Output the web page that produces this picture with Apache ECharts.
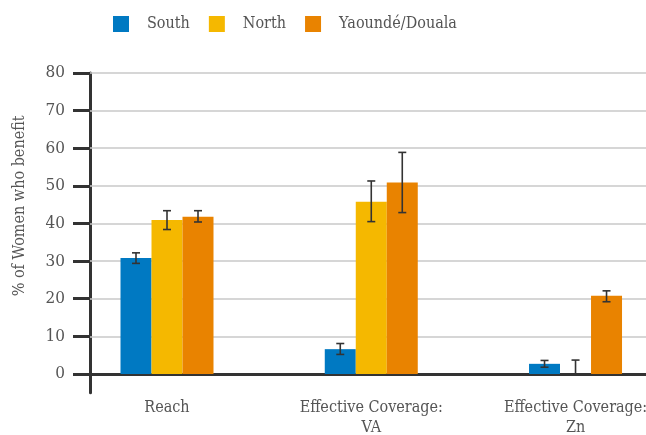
<!DOCTYPE html>
<html>
<head>
<meta charset="utf-8">
<script src="https://cdn.jsdelivr.net/npm/echarts@6/dist/echarts.min.js"></script>
<style>html,body{margin:0;padding:0;background:#fff}#c{width:646px;height:435px}</style>
</head>
<body>
<div id="c"></div>
<script>
const categories = ['Reach', 'Effective Coverage:\nVA', 'Effective Coverage:\nZn'];
const seriesNames = ['South', 'North', 'Yaoundé/Douala'];
const southValues = [30.8, 6.6, 2.7];
const northValues = [40.9, 45.8, 0];
const capitalValues = [41.8, 50.9, 20.8];
const southErrLow = [29.4, 5.2, 1.8];
const southErrHigh = [32.2, 8.1, 3.6];
const northErrLow = [38.4, 40.5, 0];
const northErrHigh = [43.4, 51.3, 3.7];
const capitalErrLow = [40.4, 42.9, 19.2];
const capitalErrHigh = [43.4, 58.9, 22.1];
const yTicks = [0, 10, 20, 30, 40, 50, 60, 70, 80];

const colors = ['#0079c2', '#f5b800', '#e98300'];
const FONT = 'DejaVu Serif Condensed';
const BAR_W = 31;
const values = [southValues, northValues, capitalValues];
const errLow = [southErrLow, northErrLow, capitalErrLow];
const errHigh = [southErrHigh, northErrHigh, capitalErrHigh];

const chart = echarts.init(document.getElementById('c'), null, {renderer: 'canvas'});

const series = [];
values.forEach((vals, s) => {
  const ser = {
    name: seriesNames[s],
    type: 'bar',
    barWidth: BAR_W,
    barGap: '0%',
    itemStyle: {color: colors[s]},
    z: 2,
    data: vals.map((v, i) => [i, v])
  };
  if (s === 0) {
    ser.markLine = {
      silent: true,
      symbol: 'none',
      z: 1,
      label: {show: false},
      lineStyle: {color: '#c8c8c8', width: 1.5, type: 'solid'},
      emphasis: {disabled: true},
      data: yTicks.filter(t => t !== 0).map(t => ({yAxis: t}))
    };
  }
  series.push(ser);
});
values.forEach((vals, s) => {
  const offset = (s - 1) * BAR_W;
  series.push({
    type: 'custom',
    silent: true,
    z: 5,
    data: vals.map((v, i) => [i, errLow[s][i], errHigh[s][i]]),
    renderItem: function (params, api) {
      const lo = api.coord([api.value(0), api.value(1)]);
      const hi = api.coord([api.value(0), api.value(2)]);
      const x = lo[0] + offset;
      const cap = 4;
      const st = {stroke: '#333333', lineWidth: 1.6};
      return {
        type: 'group',
        children: [
          {type: 'line', shape: {x1: x, y1: lo[1], x2: x, y2: hi[1]}, style: st},
          {type: 'line', shape: {x1: x - cap, y1: lo[1], x2: x + cap, y2: lo[1]}, style: st},
          {type: 'line', shape: {x1: x - cap, y1: hi[1], x2: x + cap, y2: hi[1]}, style: st}
        ]
      };
    }
  });
});

chart.setOption({
  animation: false,
  backgroundColor: '#ffffff',
  textStyle: {fontFamily: FONT},
  legend: {
    data: seriesNames,
    left: 108,
    top: 11,
    itemWidth: 16,
    itemHeight: 16,
    itemGap: 19,
    icon: 'rect',
    textStyle: {fontFamily: FONT, fontSize: 16, color: '#555555', padding: [0, 0, 0, 13]}
  },
  grid: {left: 90, right: 0, top: 73, bottom: 42.2, containLabel: false, outerBoundsMode: 'none'},
  xAxis: {
    type: 'value',
    min: -0.377,
    max: 2.345,
    axisLine: {onZero: true, lineStyle: {color: '#333333', width: 3}},
    axisTick: {show: false},
    splitLine: {show: false},
    axisLabel: {
      customValues: [0, 1, 2],
      formatter: v => categories[Math.round(v)],
      fontFamily: FONT,
      fontSize: 16,
      color: '#555555',
      lineHeight: 20,
      margin: 5,
      align: 'center'
    }
  },
  yAxis: {
    type: 'value',
    min: -5,
    max: 80,
    name: '% of Women who benefit',
    nameLocation: 'middle',
    nameGap: 62,
    nameRotate: 90,
    nameTextStyle: {fontFamily: FONT, fontSize: 16, color: '#555555', padding: [0, 0, 0, 54]},
    axisLine: {show: true, onZero: false, lineStyle: {color: '#333333', width: 3}},
    axisTick: {show: true, customValues: yTicks, length: 17, lineStyle: {color: '#333333', width: 3}},
    splitLine: {show: false},
    axisLabel: {customValues: yTicks, fontFamily: FONT, fontSize: 17, color: '#555555', margin: 25}
  },
  series: series
});
</script>
</body>
</html>
